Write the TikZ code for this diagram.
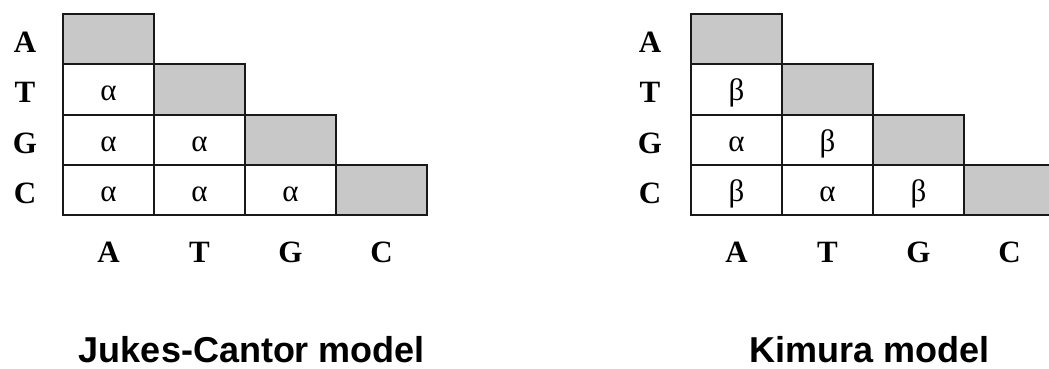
\documentclass[tikz,border=0pt]{standalone}
\usepackage{fontspec}
\setmainfont{Liberation Serif}
\newfontfamily\captionfont{Liberation Sans}
\definecolor{cellgray}{RGB}{200,200,200}
\definecolor{gridline}{RGB}{25,25,25}

\begin{document}
\begin{tikzpicture}
    [
    x=1pt, y=-1pt,
    cell/.style={rectangle,draw=gridline,line width=2pt,minimum width=91pt,minimum height=50.3pt,inner sep=0pt,outer sep=0pt,text height=22pt,text depth=0pt,font=\fontsize{31}{31}\selectfont},
    diag/.style={cell,fill=cellgray},
    letter/.style={anchor=base,font=\fontsize{31}{31}\selectfont\bfseries},
    modelname/.style={anchor=base,font=\fontsize{36}{36}\selectfont\captionfont\bfseries}
    ]
\useasboundingbox (0,0) rectangle (1049,368);
% Jukes-Cantor
\node[diag] (jAA) at (108.5,39) {};
\node[cell] (jTA) at (108.5,89.5) {α};
\node[diag] (jTT) at (199.5,89.5) {};
\node[cell] (jGA) at (108.5,140) {α};
\node[cell] (jGT) at (199.5,140) {α};
\node[diag] (jGG) at (290.5,140) {};
\node[cell] (jCA) at (108.5,190) {α};
\node[cell] (jCT) at (199.5,190) {α};
\node[cell] (jCG) at (290.5,190) {α};
\node[diag] (jCC) at (381.5,190) {};
\node[letter] (jrA) at (25,52) {A};
\node[letter] (jrT) at (25,102.5) {T};
\node[letter] (jrG) at (25,153) {G};
\node[letter] (jrC) at (25,203) {C};
\node[letter] (jcA) at (108.5,262) {A};
\node[letter] (jcT) at (199.5,262) {T};
\node[letter] (jcG) at (290.5,262) {G};
\node[letter] (jcC) at (381.5,262) {C};
\node[modelname] (jname) at (252,362) {Jukes-Cantor model};
% Kimura
\node[diag] (kAA) at (736.5,39) {};
\node[cell] (kTA) at (736.5,89.5) {β};
\node[diag] (kTT) at (827.5,89.5) {};
\node[cell] (kGA) at (736.5,140) {α};
\node[cell] (kGT) at (827.5,140) {β};
\node[diag] (kGG) at (918.5,140) {};
\node[cell] (kCA) at (736.5,190) {β};
\node[cell] (kCT) at (827.5,190) {α};
\node[cell] (kCG) at (918.5,190) {β};
\node[diag] (kCC) at (1009.5,190) {};
\node[letter] (krA) at (650,52) {A};
\node[letter] (krT) at (650,102.5) {T};
\node[letter] (krG) at (650,153) {G};
\node[letter] (krC) at (650,203) {C};
\node[letter] (kcA) at (736.5,262) {A};
\node[letter] (kcT) at (827.5,262) {T};
\node[letter] (kcG) at (918.5,262) {G};
\node[letter] (kcC) at (1009.5,262) {C};
\node[modelname] (kname) at (870,362) {Kimura model};
\end{tikzpicture}
\end{document}
